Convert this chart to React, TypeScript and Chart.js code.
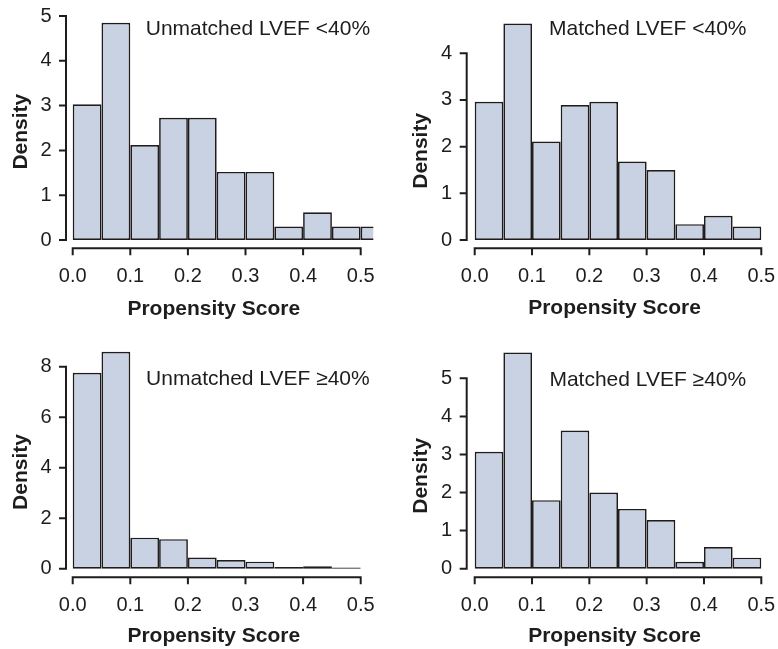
import React, { useEffect, useRef } from 'react';
import { Chart, registerables } from 'chart.js';

Chart.register(...registerables);

// ---------- data ----------
const BIN_MIDS_11 = [0.025, 0.075, 0.125, 0.175, 0.225, 0.275, 0.325, 0.375, 0.425, 0.475, 0.525];
const BIN_MIDS_10 = [0.025, 0.075, 0.125, 0.175, 0.225, 0.275, 0.325, 0.375, 0.425, 0.475];

const UNMATCHED_LOW = [3.03, 4.85, 2.12, 2.73, 2.73, 1.52, 1.52, 0.3, 0.62, 0.3, 0.3];
const MATCHED_LOW = [2.96, 4.64, 2.11, 2.89, 2.96, 1.68, 1.5, 0.34, 0.52, 0.29];
const UNMATCHED_HIGH = [7.76, 8.59, 1.23, 1.17, 0.44, 0.34, 0.28, 0.07, 0.1, 0.05];
const MATCHED_HIGH = [3.07, 5.68, 1.8, 3.63, 2.0, 1.57, 1.28, 0.18, 0.57, 0.29];

const X_TICKS = [0, 0.1, 0.2, 0.3, 0.4, 0.5];
const X_TICK_LABELS = ['0.0', '0.1', '0.2', '0.3', '0.4', '0.5'];
const Y_TICKS_5 = [0, 1, 2, 3, 4, 5];
const Y_TICKS_4 = [0, 1, 2, 3, 4];
const Y_TICKS_8 = [0, 2, 4, 6, 8];

const LABELS = ['Unmatched LVEF <40%', 'Matched LVEF <40%', 'Unmatched LVEF \u226540%', 'Matched LVEF \u226540%'];
const X_TITLE = 'Propensity Score';
const Y_TITLE = 'Density';

// ---------- style ----------
const FONT = '"Liberation Sans", Arial, Helvetica, sans-serif';
const INK = '#1f1c1d';
const FILL = '#c9d2e3';
const TICK = 6;

// map pixel targets to a value range: p0 = pixel of value 0, p1 = pixel of value v1
function linRange(aStart: number, aEnd: number, p0: number, p1: number, v1: number) {
  const k = (p1 - p0) / v1;
  return { min: (aStart - p0) / k, max: (aEnd - p0) / k };
}

type Panel = {
  key: string;
  label: string;
  mids: number[];
  values: number[];
  yTicks: number[];
  left: number;
  top: number;
  width: number;
  height: number;
  area: { l: number; r: number; t: number; b: number };
  x0: number; x5: number;
  y0: number; yTop: number; yTopVal: number;
  clipRight: number;
  labelX: number; labelY: number;
  xTitlePad: number; yTitlePad: number;
};

const PANELS: Panel[] = [
  {
    key: 'p1', label: LABELS[0], mids: BIN_MIDS_11, values: UNMATCHED_LOW, yTicks: Y_TICKS_5,
    left: 0, top: 0, width: 389, height: 320,
    area: { l: 66, r: 361.5, t: 15, b: 248.3 },
    x0: 72.7, x5: 360.7, y0: 240, yTop: 16, yTopVal: 5,
    clipRight: 11.8, labelX: 257.9, labelY: 34.7, xTitlePad: 0.2, yTitlePad: 10.3,
  },
  {
    key: 'p2', label: LABELS[1], mids: BIN_MIDS_10, values: MATCHED_LOW, yTicks: Y_TICKS_4,
    left: 389, top: 0, width: 389, height: 320,
    area: { l: 77.7, r: 373.3, t: 53.3, b: 248.3 },
    x0: 85.7, x5: 372.3, y0: 240, yTop: 53.3, yTopVal: 4,
    clipRight: 0, labelX: 258.8, labelY: 34.7, xTitlePad: 1, yTitlePad: 21.5,
  },
  {
    key: 'p3', label: LABELS[2], mids: BIN_MIDS_10, values: UNMATCHED_HIGH, yTicks: Y_TICKS_8,
    left: 0, top: 320, width: 389, height: 329,
    area: { l: 66, r: 361.5, t: 46.7, b: 257.3 },
    x0: 72.7, x5: 360.7, y0: 248.7, yTop: 46.7, yTopVal: 8,
    clipRight: 0, labelX: 257.9, labelY: 65, xTitlePad: 2.6, yTitlePad: 10.3,
  },
  {
    key: 'p4', label: LABELS[3], mids: BIN_MIDS_10, values: MATCHED_HIGH, yTicks: Y_TICKS_5,
    left: 389, top: 320, width: 389, height: 329,
    area: { l: 77.7, r: 373.3, t: 54.3, b: 257.3 },
    x0: 85.7, x5: 372.3, y0: 248.7, yTop: 58.3, yTopVal: 5,
    clipRight: 0, labelX: 258.8, labelY: 65.7, xTitlePad: 2, yTitlePad: 21.5,
  },
];

// R-style detached axes: line from first to last tick, ticks pointing outward
const rAxesPlugin = {
  id: 'rAxes',
  afterDraw(chart: any) {
    const { ctx, chartArea: a, scales } = chart;
    const x = scales.x;
    const y = scales.y;
    const xs = x.ticks.map((t: any) => x.getPixelForValue(t.value));
    const ys = y.ticks.map((t: any) => y.getPixelForValue(t.value));
    ctx.save();
    ctx.strokeStyle = INK;
    ctx.lineWidth = 2;
    ctx.lineCap = 'square';
    ctx.beginPath();
    ctx.moveTo(xs[0], a.bottom);
    ctx.lineTo(xs[xs.length - 1], a.bottom);
    xs.forEach((px: number) => {
      ctx.moveTo(px, a.bottom);
      ctx.lineTo(px, a.bottom + TICK);
    });
    ctx.moveTo(a.left, ys[0]);
    ctx.lineTo(a.left, ys[ys.length - 1]);
    ys.forEach((py: number) => {
      ctx.moveTo(a.left, py);
      ctx.lineTo(a.left - TICK, py);
    });
    ctx.stroke();
    ctx.restore();
  },
};

const panelLabelPlugin = {
  id: 'panelLabel',
  afterDraw(chart: any, _args: any, opts: any) {
    if (!opts || !opts.text) return;
    const { ctx } = chart;
    ctx.save();
    ctx.fillStyle = INK;
    ctx.font = `21px ${FONT}`;
    ctx.textAlign = 'center';
    ctx.textBaseline = 'alphabetic';
    ctx.fillText(opts.text, opts.x, opts.y);
    ctx.restore();
  },
};

function buildConfig(p: Panel): any {
  const xr = linRange(p.area.l, p.area.r, p.x0, p.x5, 0.5);
  const yr = linRange(p.area.b, p.area.t, p.y0, p.yTop, p.yTopVal);
  return {
    type: 'bar',
    data: {
      datasets: [
        {
          data: p.mids.map((m, i) => ({ x: m, y: p.values[i] })),
          backgroundColor: FILL,
          borderColor: INK,
          borderWidth: 1.7,
          borderSkipped: false,
          barPercentage: 1,
          categoryPercentage: 1,
          inflateAmount: 0,
          clip: { left: 0, top: false, right: p.clipRight, bottom: 0 },
        },
      ],
    },
    options: {
      responsive: false,
      maintainAspectRatio: false,
      animation: false,
      devicePixelRatio: 1,
      events: [],
      layout: { padding: { left: 0, top: p.area.t, right: p.width - p.area.r, bottom: 0 } },
      plugins: {
        legend: { display: false },
        tooltip: { enabled: false },
        title: { display: false },
        panelLabel: { text: p.label, x: p.labelX, y: p.labelY },
      },
      scales: {
        x: {
          type: 'linear',
          min: xr.min,
          max: xr.max,
          offset: false,
          grid: { display: false, drawTicks: false },
          border: { display: false },
          afterBuildTicks: (s: any) => {
            s.ticks = X_TICKS.map((v) => ({ value: v }));
          },
          afterFit: (s: any) => {
            s.height = p.height - p.area.b;
            s.paddingLeft = 0;
            s.paddingRight = 0;
          },
          ticks: {
            autoSkip: false,
            maxRotation: 0,
            minRotation: 0,
            padding: 16,
            color: INK,
            font: { family: FONT, size: 20 },
            callback: (_v: any, i: number) => X_TICK_LABELS[i],
          },
          title: {
            display: true,
            text: X_TITLE,
            color: INK,
            font: { family: FONT, size: 21, weight: 'bold', lineHeight: 1 },
            padding: { top: 0, bottom: p.xTitlePad },
          },
        },
        y: {
          type: 'linear',
          min: yr.min,
          max: yr.max,
          grid: { display: false, drawTicks: false },
          border: { display: false },
          afterBuildTicks: (s: any) => {
            s.ticks = p.yTicks.map((v) => ({ value: v }));
          },
          afterFit: (s: any) => {
            s.width = p.area.l;
            s.paddingTop = 0;
            s.paddingBottom = 0;
          },
          ticks: {
            autoSkip: false,
            padding: 14.5,
            color: INK,
            font: { family: FONT, size: 20 },
            callback: (_v: any, i: number) => String(p.yTicks[i]),
          },
          title: {
            display: true,
            text: Y_TITLE,
            color: INK,
            font: { family: FONT, size: 21, weight: 'bold', lineHeight: 1 },
            padding: { top: p.yTitlePad, bottom: 0 },
          },
        },
      },
    },
    plugins: [rAxesPlugin, panelLabelPlugin],
  };
}

function PanelChart({ p }: { p: Panel }) {
  const ref = useRef<HTMLCanvasElement | null>(null);
  useEffect(() => {
    if (!ref.current) return;
    const chart = new Chart(ref.current, buildConfig(p));
    return () => chart.destroy();
  }, [p]);
  return (
    <canvas
      ref={ref}
      width={p.width}
      height={p.height}
      style={{ position: 'absolute', left: p.left, top: p.top, width: p.width, height: p.height }}
    />
  );
}

export default function App() {
  return (
    <div
      style={{
        position: 'absolute',
        left: 0,
        top: 0,
        width: 778,
        height: 649,
        background: '#ffffff',
        overflow: 'hidden',
      }}
    >
      {PANELS.map((p) => (
        <PanelChart key={p.key} p={p} />
      ))}
    </div>
  );
}
